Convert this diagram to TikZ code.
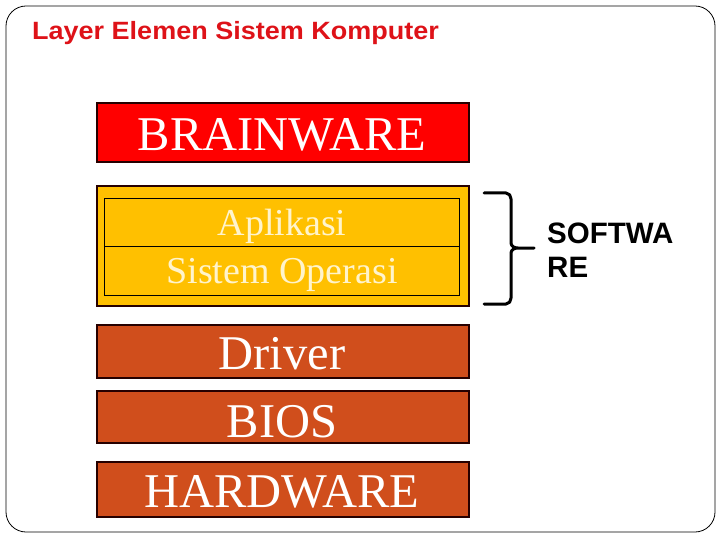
\documentclass[tikz,border=0pt]{standalone}
\usepackage{fontspec}
\setmainfont{Liberation Serif}
\setsansfont{Liberation Sans}
\definecolor{titlered}{RGB}{222,18,24}
\definecolor{brainred}{RGB}{255,0,0}
\definecolor{swyellow}{RGB}{255,192,0}
\definecolor{hworange}{RGB}{208,78,28}
\definecolor{paletxt}{RGB}{255,244,204}
\begin{document}
\begin{tikzpicture}[x=1pt,y=-1pt,
  layer/.style={draw=black!85!red, line width=1.6pt, inner sep=0pt, anchor=north west},
  bigtxt/.style={font=\fontsize{48.5}{48.5}\selectfont, text=white},
  midtxt/.style={font=\fontsize{38}{38}\selectfont, text=paletxt},
  inner/.style={draw=black, line width=1.4pt, inner sep=0pt, anchor=north west, fill=swyellow}]
\useasboundingbox (0,0) rectangle (720,540);
\draw[line width=0.8pt, rounded corners=20pt] (6,6) rectangle (715,532);
\node[anchor=base west, inner sep=0pt, font=\sffamily\bfseries\fontsize{25}{25}\selectfont, text=titlered, xscale=1.08] (title) at (32,40) {Layer Elemen Sistem Komputer};
% BRAINWARE
\node[layer, fill=brainred, minimum width=372pt, minimum height=59pt] (brain) at (96,102) {};
\node[bigtxt, anchor=base] (braint) at (282,151) {BRAINWARE};
% software block
\node[layer, fill=swyellow, minimum width=372pt, minimum height=120pt] (sw) at (96,185) {};
\node[inner, minimum width=355pt, minimum height=48pt] (app) at (104,198) {};
\node[inner, minimum width=355pt, minimum height=49pt] (os) at (104,246) {};
\node[midtxt, anchor=base] (appt) at (282,236) {Aplikasi};
\node[midtxt, anchor=base] (ost) at (282,283) {Sistem Operasi};
% hardware layers
\node[layer, fill=hworange, minimum width=372pt, minimum height=53pt] (drv) at (96,324) {};
\node[bigtxt, anchor=base] (drvt) at (282,369) {Driver};
\node[layer, fill=hworange, minimum width=372pt, minimum height=52pt] (bios) at (96,390) {};
\node[bigtxt, anchor=base] (biost) at (282,437) {BIOS};
\node[layer, fill=hworange, minimum width=372pt, minimum height=55pt] (hw) at (96,461) {};
\node[bigtxt, anchor=base] (hwt) at (282,507) {HARDWARE};
% brace
\coordinate (bt) at (484,193);
\coordinate (bb) at (484,304);
\coordinate (bm) at (534,248);
\draw[line width=3pt, line cap=round, line join=round]
  (bt) -- (506,193) to[out=0,in=90] (511,199) -- (511,243) to[out=-90,in=180] (518,248) -- (bm)
  (518,248) to[out=180,in=90] (511,253) -- (511,298) to[out=-90,in=0] (506,304) -- (bb);
\node[anchor=base west, inner sep=0pt, font=\sffamily\bfseries\fontsize{29.5}{34}\selectfont, align=left] (swt) at (547,277) {SOFTWA\\RE};
\end{tikzpicture}
\end{document}
